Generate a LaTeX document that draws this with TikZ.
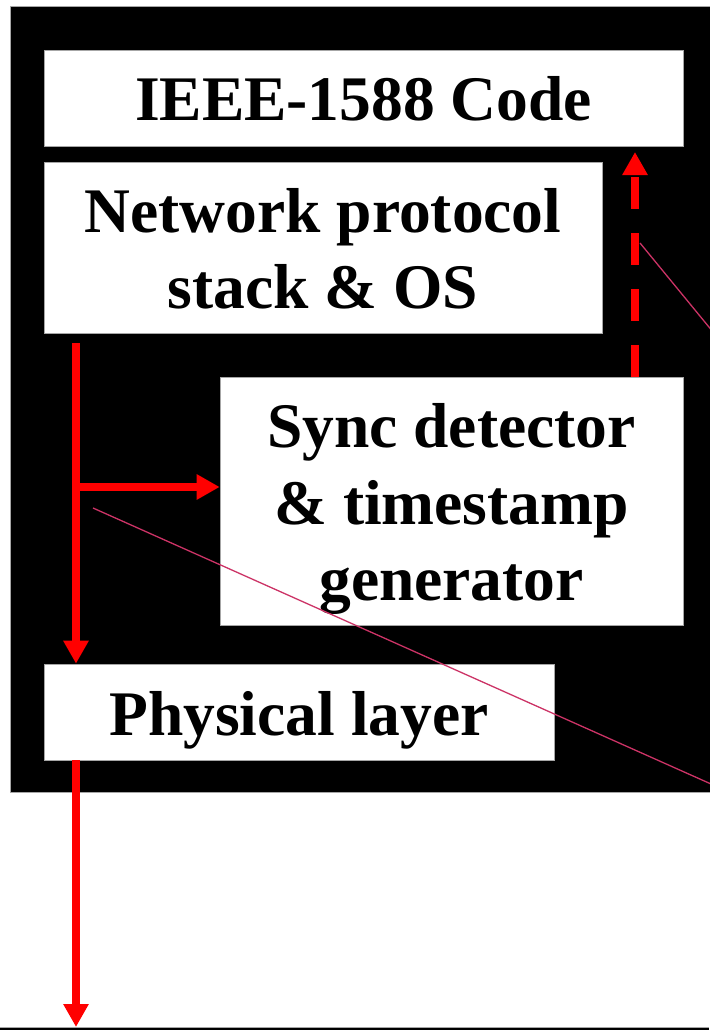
\documentclass[tikz,border=0pt]{standalone}
\usepackage{fontspec}
\setmainfont{Liberation Serif}
\usetikzlibrary{arrows.meta}
\newcommand{\lstrut}{\rule[-15.25pt]{0pt}{76.5pt}}

\begin{document}
\begin{tikzpicture}[x=1pt,y=-1pt,
		layer/.style={draw=gray!70, line width=0.6pt, fill=white, inner sep=0pt, align=center,
			font=\bfseries\fontsize{63.5}{76.5}\selectfont},
		flow/.style={draw=red, line width=8pt, -{Triangle[length=23pt,width=24pt]}},
		pointer/.style={draw={rgb,255:red,204;green,51;blue,102}, line width=1.3pt}]
			\useasboundingbox (0,0) rectangle (709,1030);
			\fill[black] (10,6) rectangle (720,792);
			\draw[gray!70, line width=0.6pt] (720,6)--(10,6)--(10,792)--(720,792);
			\fill[black] (0,1027) rectangle (709,1035);
			\draw[gray!70, line width=0.6pt] (0,1027)--(709,1027);
			
			\node[layer, minimum width=639pt, minimum height=96pt] (ieee) at (363.5,98) {\lstrut IEEE-1588 Code};
			\node[layer, minimum width=558pt, minimum height=171pt] (stack) at (323,247.5) {\lstrut Network protocol\\\lstrut stack \& OS};
			\node[layer, minimum width=463pt, minimum height=248pt] (sync) at (451.5,501) {\lstrut Sync detector\\\lstrut\& timestamp\\\lstrut generator};
			\node[layer, minimum width=510pt, minimum height=96pt] (phy) at (299,712) {\lstrut Physical layer};
			
			\coordinate (txout) at (76,343);
			\coordinate (tap) at (76,487);
			\coordinate (tsup) at (635,377);
			\coordinate (tstop) at (635,152);
			\coordinate (wire) at (76,1027);
			\draw[flow] (txout) -- (phy.north -| txout);
			\draw[flow] (tap) -- (sync.west |- tap);
			\draw[flow, dash pattern=on 32pt off 24pt] (sync.north -| tsup) -- (tstop);
			\draw[flow] (phy.south -| wire) -- (wire);
			
			\coordinate (callA) at (640,243);
			\coordinate (callAend) at (720,340.5);
			\coordinate (callB) at (93,508);
			\coordinate (callBend) at (720,788);
			\draw[pointer] (callA) -- (callAend);
			\draw[pointer] (callB) -- (callBend);
		\end{tikzpicture}
\end{document}
